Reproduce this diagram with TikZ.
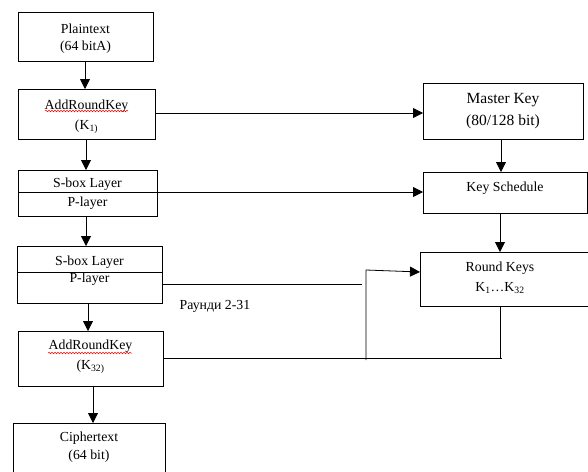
\documentclass[tikz,border=0pt]{standalone}
\usepackage{fontspec}
\setmainfont{Liberation Serif}
\usetikzlibrary{arrows.meta,decorations.pathmorphing}
\begin{document}
\begin{tikzpicture}[x=1pt,y=-1pt,
  box/.style={draw, line width=0.8pt, inner sep=0pt, anchor=north west},
  txt/.style={inner sep=0pt, font=\fontsize{13.8}{16}\selectfont},
  bigtxt/.style={inner sep=0pt, font=\fontsize{15.5}{18}\selectfont},
  conn/.style={line width=0.8pt},
  arr/.style={line width=0.8pt, -{Triangle[length=10pt,width=10pt]}},
  squig/.style={red, line width=0.5pt, decorate, decoration={snake, amplitude=0.8pt, segment length=3pt}}]
\useasboundingbox (0,0) rectangle (588,471);
\clip (0,0) rectangle (588,471);
% left column boxes
\node[box, minimum width=135pt, minimum height=49pt] (plain) at (18,12) {};
\node[txt] (plaint1) at (85.5,29) {Plaintext};
\node[txt] (plaint2) at (85.5,47) {(64 bitA)};

\node[box, minimum width=137pt, minimum height=50pt] (ark1) at (18,89) {};
\node[txt] (ark1t1) at (86.5,106) {AddRoundKey};
\node[txt] (ark1t2) at (86.5,127) {(K\textsubscript{1)}};

\node[box, minimum width=139pt, minimum height=46pt] (sb1) at (18,170) {};
\node[txt] (sb1t1) at (87.5,184) {S-box Layer};
\node[txt] (sb1t2) at (87.5,203) {P-layer};

\node[box, minimum width=145pt, minimum height=57pt] (sb2) at (17,246) {};
\node[txt] (sb2t1) at (89.5,262) {S-box Layer};
\node[txt] (sb2t2) at (89.5,279) {P-layer};
\draw[conn] (17,272) -- (162,272);

\node[box, minimum width=145pt, minimum height=55pt] (ark2) at (18,331) {};
\node[txt] (ark2t1) at (90.5,346) {AddRoundKey};
\node[txt] (ark2t2) at (90.5,367) {(K\textsubscript{32)}};

\node[box, minimum width=152pt, minimum height=60pt] (ciph) at (13,423) {};
\node[txt] (ciph1) at (89,438) {Ciphertext};
\node[txt] (ciph2) at (89,456) {(64 bit)};

% right column boxes
\node[box, minimum width=160pt, minimum height=56pt] (mk) at (423,83) {};
\node[bigtxt] (mkt1) at (503,100) {Master Key};
\node[bigtxt] (mkt2) at (503,122) {(80/128 bit)};

\node[box, minimum width=164pt, minimum height=41pt] (ks) at (423,172) {};
\node[txt] (kst) at (505,188) {Key Schedule};

\node[box, minimum width=172pt, minimum height=54pt] (rk) at (420,252) {};
\node[txt] (rkt1) at (500,268) {Round Keys};
\node[txt] (rkt2) at (500,288) {K\textsubscript{1}…K\textsubscript{32}};

\node[txt] (rounds) at (215,306) {Раунди 2-31};

% spell-check squiggles
\draw[squig] (45,111) -- (128,111);
\draw[squig] (48,353) -- (132,353);

% vertical flow
\draw[arr] (85,61) -- (85,89);
\draw[arr] (86,139) -- (86,170);
\draw[arr] (86,216) -- (86,246);
\draw[arr] (88,303) -- (88,331);
\draw[arr] (93,386) -- (93,423);

% key connections
\draw[arr] (155,113) -- (423,113);
\draw[arr] (18,192) -- (423,192);
\draw[arr] (501,139) -- (501,172);
\draw[arr] (500,213) -- (500,252);

\coordinate (pend) at (362,284);
\draw[conn] (162,284) -- (pend);
\coordinate (joinB) at (502,358);
\draw[conn] (163,358) -- (joinB);
\draw[conn] (500,306) -- (500,358);
\coordinate (vbot) at (366,360);
\coordinate (vtop) at (366,270);
\draw[arr] (vbot) -- (vtop) -- (420,272);
\end{tikzpicture}
\end{document}
